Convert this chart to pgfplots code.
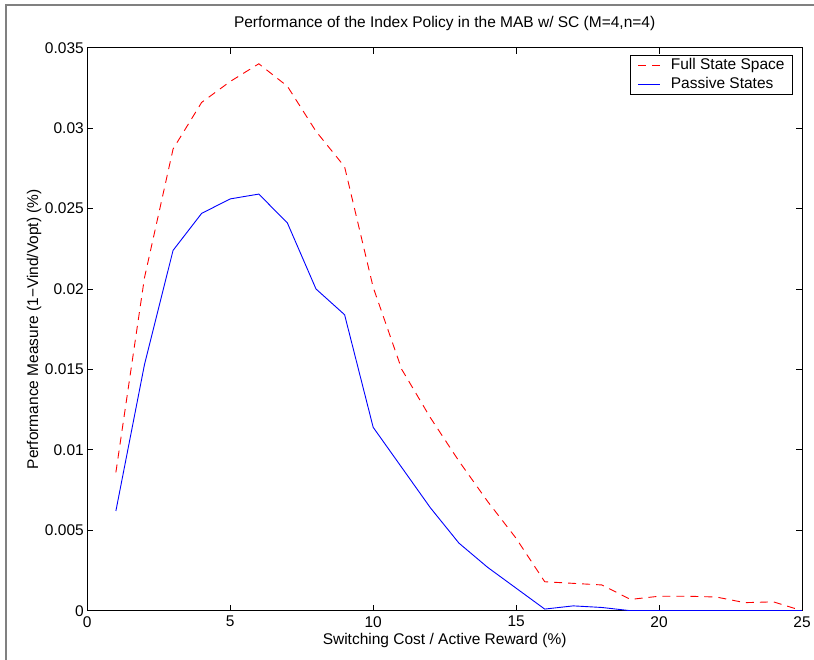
\documentclass[border=0pt]{standalone}
\usepackage{fontspec}
\setmainfont{Liberation Sans}
\usepackage{pgfplots}
\pgfplotsset{compat=1.18}
\newcommand\ff{\fontsize{15.5pt}{18pt}\selectfont}
\begin{document}
\begin{tikzpicture}
\useasboundingbox (0,0) rectangle (814pt,660pt);
\fill[white] (0,0) rectangle (814pt,660pt);
\draw[line width=1.5pt, black!50] (6pt,0pt) -- (6pt,655pt) -- (814pt,655pt);
\begin{axis}[
  at={(87.3pt,49.3pt)}, anchor=south west,
  scale only axis, width=714.7pt, height=563pt,
  xmin=0, xmax=25, ymin=0, ymax=0.035,
  xtick={0,5,10,15,20,25},
  ytick={0,0.005,0.01,0.015,0.02,0.025,0.03,0.035},
  yticklabels={0,0.005,0.01,0.015,0.02,0.025,0.03,0.035},
  scaled y ticks=false,
  /pgf/number format/assume math mode=true,
  tick align=inside, major tick length=6pt,
  tick style={black, line width=0.8pt},
  axis line style={black, line width=1pt},
  ticklabel style={font=\ff},
  xticklabel style={yshift=-2pt},
  title={Performance of the Index Policy in the MAB w/ SC (M=4,n=4)},
  title style={font=\ff, at={(axis description cs:0.5,1.033)}, anchor=center},
  xlabel={Switching Cost / Active Reward (\%)},
  xlabel style={font=\ff, at={(axis description cs:0.5,-0.053)}, anchor=center},
  ylabel={Performance Measure (1−Vind/Vopt) (\%)},
  ylabel style={font=\ff, at={(axis description cs:-0.0745,0.5)}, anchor=center},
  legend cell align=left,
  legend image code/.code={\draw[#1] (0pt,0pt) -- (22pt,0pt);},
  legend style={at={(axis description cs:1,1)}, anchor=north east, xshift=-9pt, yshift=-7pt,
    draw=black, line width=0.8pt, font=\ff, inner xsep=8pt, inner ysep=3pt, row sep=5pt,
    nodes={inner sep=0pt, text height=11pt, text depth=3pt},
    /tikz/every odd column/.append style={column sep=10pt}},
]
\addplot[red, line width=0.9pt, dash pattern=on 8pt off 6pt] coordinates {
(1,0.0086) (2,0.0207) (3,0.0287) (4,0.0316) (5,0.0329) (6,0.0340) (7,0.0326) (8,0.0298) (9,0.0276) (10,0.0201) (11,0.0150) (12,0.0120) (13,0.0093) (14,0.0068) (15,0.0045) (16,0.0018) (17,0.0017) (18,0.0016) (19,0.0007) (20,0.0009) (21,0.0009) (22,0.00085) (23,0.0005) (24,0.00055) (25,0)
};
\addlegendentry{Full State Space}
\addplot[blue, line width=0.9pt] coordinates {
(1,0.0062) (2,0.0153) (3,0.0224) (4,0.0247) (5,0.0256) (6,0.0259) (7,0.0241) (8,0.0200) (9,0.0184) (10,0.0114) (11,0.0089) (12,0.0064) (13,0.0042) (14,0.0027) (15,0.0014) (16,0.0001) (17,0.0003) (18,0.0002) (19,0) (20,0) (21,0) (22,0) (23,0) (24,0) (25,0)
};
\addlegendentry{Passive States}
\end{axis}
\end{tikzpicture}
\end{document}
